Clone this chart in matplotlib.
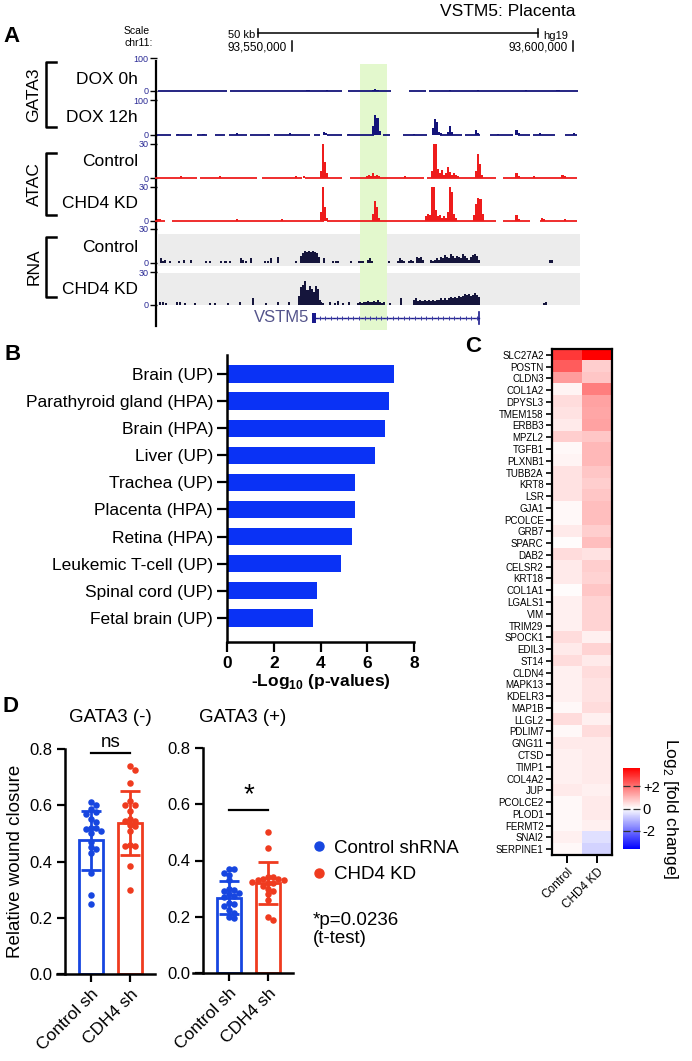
import numpy as np
import matplotlib.pyplot as plt
from matplotlib.lines import Line2D

plt.rcParams['font.family'] = ['Liberation Sans', 'DejaVu Sans']
plt.rcParams['mathtext.fontset'] = 'custom'
plt.rcParams['mathtext.rm'] = 'Liberation Sans'
plt.rcParams['mathtext.bf'] = 'Liberation Sans:bold'

# ---------------- panel A data (chr11 positions in kb) ----------------
view_kb = (93525.8, 93601.3)
highlight_kb = (93562.1, 93566.9)
coord_ticks_kb = [93550, 93600]
coord_labels = ['93,550,000', '93,600,000']
scalebar_end_kb = 93593.9
scalebar_len_kb = 50
gene_exon_kb = (93553.6, 93554.3)
gene_end_kb = 93583.3
bin_kb = 0.36

# baseline segments (start, end) and peaks as runs (start kb, values per bin)
dox0_base = [(93526.0, 93538.4), (93538.9, 93558.9), (93559.9, 93567.6),
             (93570.8, 93573.9), (93574.4, 93601.0)]
dox0_runs = [(93564.3, [3, 5, 4]), (93556.0, [2]), (93552.5, [2, 2]), (93578.0, [3]),
             (93583.0, [2]), (93591.5, [2]), (93597.0, [3, 2])]

dox12_base = [(93525.9, 93528.3), (93529.2, 93532.2), (93533.0, 93534.8), (93536.3, 93538.1),
              (93538.7, 93541.9), (93542.5, 93546.1), (93546.7, 93553.2), (93553.8, 93555.0),
              (93556.2, 93558.8), (93559.7, 93564.5), (93566.2, 93567.4), (93569.8, 93574.0),
              (93576.3, 93580.2), (93580.8, 93583.5), (93585.2, 93589.4), (93590.3, 93592.4),
              (93592.9, 93596.8), (93598.6, 93600.7)]
dox12_runs = [(93555.4, [9, 5]), (93564.3, [25, 58, 48, 12]),
              (93574.9, [20, 46, 38, 10, 6]), (93577.6, [10, 25, 8]),
              (93582.5, [15, 6]), (93589.8, [15, 6]), (93529.5, [4]), (93534.0, [4]),
              (93540.0, [5]), (93545.5, [4]), (93549.5, [5]), (93560.0, [3]), (93571.5, [4]),
              (93586.5, [4]), (93594.0, [5]), (93600.0, [5])]

atac_ctrl_base = [(93525.6, 93533.0), (93533.6, 93543.7), (93544.6, 93551.7), (93552.3, 93558.8),
                  (93560.3, 93573.4), (93574.0, 93586.4), (93587.6, 93600.7)]
atac_ctrl_runs = [(93555.0, [6, 30, 14, 4]), (93563.2, [2, 3, 2, 4, 2, 3, 2]),
                  (93574.7, [6, 30, 30, 8, 4, 7, 3, 4, 10, 5, 3, 4, 3, 2]),
                  (93582.6, [6, 21, 12, 3]), (93589.8, [4, 2]), (93598.0, [3, 2]),
                  (93550.5, [2]), (93552.0, [2]), (93537.0, [2]), (93530.0, [2]),
                  (93570.0, [2]), (93593.0, [2])]

atac_kd_base = [(93525.6, 93527.4), (93528.6, 93555.6), (93556.2, 93586.4),
                (93587.6, 93592.4), (93594.1, 93600.7)]
atac_kd_runs = [(93555.0, [8, 30, 12, 3]), (93564.2, [6, 18, 12, 3]),
                (93573.7, [4, 6, 5, 30, 30, 10, 4, 5, 3, 4, 3]),
                (93577.6, [8, 30, 26, 6, 3]), (93582.3, [5, 15, 20, 19, 6]),
                (93589.8, [5, 2]), (93594.3, [3, 2]), (93525.9, [2, 2]),
                (93540.0, [2]), (93548.0, [2]), (93598.5, [2])]

rna_ctrl_runs = [(93526.5, [4, 2, 3]), (93528.0, [2]), (93529.6, [2]), (93530.6, [3]),
                 (93531.7, [3]), (93534.4, [2, 0, 2]), (93537.2, [2, 0, 2]), (93538.7, [2]),
                 (93540.6, [4, 3]), (93541.6, [2]), (93542.5, [4]), (93544.9, [2]),
                 (93545.5, [2]), (93546.1, [4]), (93547.2, [5]), (93550.5, [2]),
                 (93551.3, [6, 9, 11, 10, 11, 10, 11, 10, 9, 5]), (93555.5, [4]),
                 (93557.0, [2]), (93557.6, [2]), (93558.0, [2]), (93560.3, [2]),
                 (93561.8, [2, 2, 2]), (93563.4, [3, 4, 2]), (93567.0, [2]),
                 (93568.6, [2, 4, 3, 2]), (93570.6, [2, 3, 2, 0, 5, 4, 5, 3]),
                 (93574.5, [3, 2, 3, 4, 3, 5, 4, 7, 5, 4, 8, 6, 4, 6, 5, 4, 8, 6, 4, 3,
                            5, 7, 8, 6, 3]),
                 (93595.8, [3, 3])]

rna_kd_runs = [(93526.2, [3]), (93526.8, [3]), (93527.4, [2]), (93529.2, [3]), (93529.8, [3]),
               (93530.7, [2]), (93532.5, [2]), (93535.1, [2]), (93536.0, [2]), (93538.4, [2]),
               (93540.5, [3]), (93542.8, [6]), (93545.2, [2]), (93547.3, [3]), (93549.2, [3]),
               (93551.1, [8, 16, 18, 22, 14, 17, 15, 12, 17, 15, 5]),
               (93555.0, [3, 2]), (93556.5, [3]), (93557.4, [2]), (93558.0, [4]),
               (93558.9, [2]), (93560.0, [3]),
               (93561.5, [2, 3, 2, 3, 3, 4, 3, 3, 4, 3, 5, 3, 2, 3, 0, 0, 2]),
               (93569.2, [6]),
               (93571.6, [5, 6, 4, 5, 4, 5, 4, 5, 4, 5, 4, 5, 5, 6, 5, 6, 5, 6, 7, 6, 7, 6,
                          8, 7, 8, 10, 9, 10, 8, 9, 11, 9, 7]),
               (93594.7, [2, 3])]

# ---------------- panel B data ----------------
tissues = ['Brain (UP)', 'Parathyroid gland (HPA)', 'Brain (HPA)', 'Liver (UP)',
           'Trachea (UP)', 'Placenta (HPA)', 'Retina (HPA)', 'Leukemic T-cell (UP)',
           'Spinal cord (UP)', 'Fetal brain (UP)']
neglog_p = [7.15, 6.94, 6.77, 6.34, 5.49, 5.49, 5.36, 4.89, 3.83, 3.70]

# ---------------- panel C data ----------------
genes = ['SLC27A2', 'POSTN', 'CLDN3', 'COL1A2', 'DPYSL3', 'TMEM158', 'ERBB3', 'MPZL2',
         'TGFB1', 'PLXNB1', 'TUBB2A', 'KRT8', 'LSR', 'GJA1', 'PCOLCE', 'GRB7', 'SPARC',
         'DAB2', 'CELSR2', 'KRT18', 'COL1A1', 'LGALS1', 'VIM', 'TRIM29', 'SPOCK1', 'EDIL3',
         'ST14', 'CLDN4', 'MAPK13', 'KDELR3', 'MAP1B', 'LLGL2', 'PDLIM7', 'GNG11', 'CTSD',
         'TIMP1', 'COL4A2', 'JUP', 'PCOLCE2', 'PLOD1', 'FERMT2', 'SNAI2', 'SERPINE1']
fc_control = [2.8, 2.3, 1.4, 0.15, 0.5, 0.4, 0.3, 0.7, 0.1, 0.15, 0.4, 0.4, 0.4, 0.1,
              0.1, 0.3, 0.05, 0.5, 0.3, 0.3, 0.05, 0.2, 0.2, 0.2, 0.5, 0.3, 0.5, 0.2, 0.2,
              0.2, 0.1, 0.5, 0.1, 0.3, 0.2, 0.2, 0.2, 0.3, 0.1, 0.1, 0.1, 0.2, 0.1]
fc_kd = [3.6, 0.7, 0.8, 1.8, 1.3, 1.25, 1.3, 0.8, 1.0, 1.0, 0.8, 0.7, 0.8, 0.9, 0.9,
         0.7, 0.9, 0.4, 0.7, 0.6, 0.8, 0.6, 0.6, 0.6, 0.2, 0.6, 0.3, 0.5, 0.4, 0.4, 0.5,
         0.2, 0.5, 0.3, 0.3, 0.3, 0.3, 0.2, 0.3, 0.3, 0.2, -0.45, -0.6]

# ---------------- panel D data ----------------
groups = ['Control sh', 'CDH4 sh']
neg_ctrl = [0.61, 0.60, 0.585, 0.575, 0.57, 0.55, 0.54, 0.52, 0.52, 0.515, 0.51, 0.50,
            0.47, 0.45, 0.445, 0.43, 0.36, 0.28, 0.25]
neg_kd = [0.74, 0.725, 0.68, 0.615, 0.60, 0.60, 0.58, 0.55, 0.545, 0.545, 0.53, 0.525,
          0.51, 0.46, 0.455, 0.455, 0.385, 0.30]
neg_mean = [0.475, 0.537]
neg_sd = [0.105, 0.113]
pos_ctrl = [0.37, 0.37, 0.355, 0.35, 0.33, 0.30, 0.295, 0.29, 0.285, 0.28, 0.275, 0.27,
            0.25, 0.245, 0.24, 0.225, 0.215, 0.20, 0.195]
pos_kd = [0.50, 0.445, 0.34, 0.34, 0.335, 0.335, 0.33, 0.33, 0.325, 0.32, 0.32, 0.31,
          0.30, 0.29, 0.28, 0.26, 0.20, 0.19]
pos_mean = [0.268, 0.32]
pos_sd = [0.058, 0.074]

NAVY = '#14147a'
RED = '#ee1c1c'
DARK = '#15153c'
BLUE = '#1746e0'
ORANGE = '#ef3b1f'

W, H = 692, 1061
fig = plt.figure(figsize=(W / 100, H / 100), dpi=100)


def box(x0, y0, x1, y1):
    return fig.add_axes([x0 / W, 1 - y1 / H, (x1 - x0) / W, (y1 - y0) / H])


ov = box(0, 0, W, H)
ov.set_xlim(0, W)
ov.set_ylim(H, 0)
ov.axis('off')

# panel letters
for lt, x, y in [('A', 12, 36), ('B', 13, 355), ('C', 473, 346), ('D', 10, 707)]:
    ov.text(x, y, lt, fontsize=16, fontweight='bold', ha='center', va='center')

# ---------------- panel A ----------------
ov.text(575, 11, 'VSTM5: Placenta', ha='right', va='center', fontsize=12.5)
ov.text(150, 31, 'Scale', ha='right', va='center', fontsize=7.5)
ov.text(153, 43, 'chr11:', ha='right', va='center', fontsize=7.5)

# backdrop: grey RNA lanes and highlighted region
back = box(156.5, 64, 580, 330)
back.set_xlim(*view_kb)
back.set_ylim(330, 64)
back.axis('off')
back.axhspan(234, 266, color='#ececec', lw=0)
back.axhspan(273, 305, color='#ececec', lw=0)
back.axvspan(*highlight_kb, color='#e3f8cd', lw=0)

ov.plot([156, 156], [61, 326], color='black', lw=1.6)

# ruler
rul = box(156.5, 24, 580, 56)
rul.set_xlim(*view_kb)
rul.set_ylim(56, 24)
rul.axis('off')
sb0 = scalebar_end_kb - scalebar_len_kb
rul.plot([sb0, scalebar_end_kb], [33, 33], color='black', lw=1.1)
for p in (sb0, scalebar_end_kb):
    rul.plot([p, p], [29, 37], color='black', lw=1.1)
rul.text(sb0 - 0.5, 35, '50 kb', ha='right', va='center', fontsize=8)
rul.text(scalebar_end_kb + 0.8, 36, 'hg19', ha='left', va='center', fontsize=8)
for p, lab in zip(coord_ticks_kb, coord_labels):
    rul.plot([p, p], [41, 51], color='black', lw=1.1)
    rul.text(p - 0.9, 47, lab, ha='right', va='center', fontsize=8.5)

tracks = [
    ('DOX 0h', 58, 91, 100, NAVY, dox0_runs, dox0_base, 79),
    ('DOX 12h', 100, 135, 100, NAVY, dox12_runs, dox12_base, 118),
    ('Control', 144, 178, 30, RED, atac_ctrl_runs, atac_ctrl_base, 162),
    ('CHD4 KD', 187, 221, 30, RED, atac_kd_runs, atac_kd_base, 203),
    ('Control', 229, 263, 30, DARK, rna_ctrl_runs, None, 247),
    ('CHD4 KD', 272, 305, 30, DARK, rna_kd_runs, None, 290),
]
for name, top, bot, ymax, col, runs, base, ly in tracks:
    ax = box(156.5, top, 580, bot)
    ax.set_facecolor('none')
    ax.set_xlim(*view_kb)
    ax.set_ylim(0, ymax)
    for s in ax.spines.values():
        s.set_visible(False)
    ax.set_xticks([])
    ax.set_yticks([0, ymax])
    ax.set_yticklabels(['0', str(ymax)], color='#2c2c96', fontsize=6.5)
    ax.tick_params(axis='y', length=5, width=1.0, pad=1)
    for start, vals in runs:
        pos = start + bin_kb * np.arange(len(vals))
        ax.bar(pos, vals, width=bin_kb, color=col, lw=0, align='edge')
    if base is not None:
        for a, b in base:
            ax.plot([a, b], [ymax * 0.012, ymax * 0.012], color=col, lw=1.3,
                    solid_capstyle='butt', clip_on=False)
    ov.text(138, ly, name, ha='right', va='center', fontsize=12.5)

# gene model
gax = box(156.5, 310, 580, 326)
gax.set_xlim(*view_kb)
gax.set_ylim(0, 1)
gax.axis('off')
gax.add_patch(plt.Rectangle((gene_exon_kb[0], 0.18), gene_exon_kb[1] - gene_exon_kb[0], 0.64,
                            color='#1a1a8c', lw=0))
gax.plot([gene_exon_kb[1], gene_end_kb], [0.5, 0.5], color='#1a1a8c', lw=1.0)
arrows_kb = np.arange(gene_exon_kb[1] + 0.6, gene_end_kb, 1.0)
gax.plot(arrows_kb, np.full(len(arrows_kb), 0.5),
         ls='none', marker='+', ms=3.5, mew=0.7, color='#3a3aa0')
gax.plot([gene_end_kb, gene_end_kb], [0.15, 0.85], color='#1a1a8c', lw=1.2)
gax.text(gene_exon_kb[0] - 0.5, 0.5, 'VSTM5', ha='right', va='center', fontsize=12,
         color='#55558c')

# brackets
for lab, y0, y1 in [('GATA3', 62, 127), ('ATAC', 153, 215), ('RNA', 237, 297)]:
    ov.plot([56, 46, 46, 56], [y0, y0, y1, y1], color='black', lw=1.8)
    ov.text(34, (y0 + y1) / 2, lab, rotation=90, ha='center', va='center', fontsize=12.5)

# ---------------- panel B ----------------
axb = box(227, 355, 414, 642)
yy = np.arange(len(tissues))
axb.barh(yy, neglog_p, height=0.64, color='#0a32f5')
axb.set_ylim(len(tissues) - 0.11, -0.7)
axb.set_xlim(0, 8)
axb.set_yticks(yy)
axb.set_yticklabels(tissues, fontsize=12.5)
axb.set_xticks([0, 2, 4, 6, 8])
axb.set_xticklabels(['0', '2', '4', '6', '8'], fontsize=12.5, fontweight='bold')
axb.set_xlabel(r'-Log$_{\mathbf{10}}$ (p-values)', fontsize=12.5, fontweight='bold', labelpad=1)
axb.spines['top'].set_visible(False)
axb.spines['right'].set_visible(False)
for s in ('left', 'bottom'):
    axb.spines[s].set_linewidth(1.8)
axb.tick_params(length=7, width=1.6, pad=3)

# ---------------- panel C ----------------
axc = box(552, 349, 612, 855)
mat = np.column_stack([fc_control, fc_kd])
im = axc.imshow(mat, cmap='bwr', vmin=-3.6, vmax=3.6, aspect='auto', interpolation='nearest')
axc.set_yticks(np.arange(len(genes)))
axc.set_yticklabels(genes, fontsize=7)
axc.set_xticks([0, 1])
axc.set_xticklabels(['Control', 'CHD4 KD'], rotation=45, ha='right', rotation_mode='anchor',
                    fontsize=8.5)
for s in axc.spines.values():
    s.set_linewidth(1.6)
axc.tick_params(axis='y', length=4, width=1.2, pad=2)
axc.tick_params(axis='x', length=6, width=1.4, pad=2)

cax = box(623, 768, 640, 849)
cb = fig.colorbar(im, cax=cax, ticks=[-2, 0, 2])
cb.outline.set_visible(False)
cb.ax.set_yticklabels(['-2', '0', '+2'], fontsize=10.5)
cb.ax.tick_params(direction='in', length=5, width=0.9, left=True, right=True, pad=2,
                  color='#333333')
cb.set_label(r'Log$_2$ [fold change]', rotation=270, fontsize=12.5, labelpad=15)


# ---------------- panel D ----------------
def swarm(vals, center, xs=39.0, ys=281.0, d=5.2):
    placed = []
    xs_out = []
    for v in vals:
        py = v * ys
        for i in range(40):
            o = ((i + 1) // 2) * d * (1 if i % 2 else -1) if i else 0.0
            if all((o - qx) ** 2 + (py - qy) ** 2 >= d ** 2 for qx, qy in placed):
                break
        placed.append((o, py))
        xs_out.append(center + o / xs)
    return xs_out


def wound(ax, ctrl, kd, mean, sd, xleft, sig, sig_y, sig_fs):
    ax.set_xlim(xleft, 1.64)
    ax.set_ylim(0, 0.8)
    for i, (pts, col) in enumerate([(ctrl, BLUE), (kd, ORANGE)]):
        ax.bar(i, mean[i], width=0.62, facecolor='white', edgecolor=col, lw=2, zorder=1)
        ax.scatter(swarm(pts, i), pts, s=22, color=col, lw=0, zorder=3, clip_on=False)
        ax.errorbar(i, mean[i], yerr=sd[i], fmt='none', ecolor=col, elinewidth=2,
                    capsize=7, capthick=2, zorder=4)
    ax.plot([0, 1], [sig_y, sig_y], color='black', lw=1.6, clip_on=False)
    ax.text(0.5, sig_y + 0.008, sig, ha='center', va='bottom', fontsize=sig_fs)
    ax.spines['top'].set_visible(False)
    ax.spines['right'].set_visible(False)
    ax.spines['left'].set_position(('data', -0.67))
    for s in ('left', 'bottom'):
        ax.spines[s].set_linewidth(1.8)
    ax.set_yticks([0, 0.2, 0.4, 0.6, 0.8])
    ax.set_yticklabels(['0.0', '0.2', '0.4', '0.6', '0.8'], fontsize=12)
    ax.set_xticks([0, 1])
    ax.set_xticklabels(groups, rotation=45, ha='right', rotation_mode='anchor', fontsize=12.5)
    ax.tick_params(length=6, width=1.6, pad=3)


axd1 = box(57, 749, 155, 974)
wound(axd1, neg_ctrl, neg_kd, neg_mean, neg_sd, -0.87, 'ns', 0.785, 13.5)
axd1.set_ylabel('Relative wound closure', fontsize=13.5, labelpad=4)
axd2 = box(193, 748, 293, 973)
wound(axd2, pos_ctrl, pos_kd, pos_mean, pos_sd, -0.92, '*', 0.578, 20)

ov.text(110, 717, 'GATA3 (-)', ha='center', va='center', fontsize=13.5)
ov.text(243, 717, 'GATA3 (+)', ha='center', va='center', fontsize=13.5)

handles = [Line2D([], [], ls='none', marker='o', ms=6.5, color=BLUE),
           Line2D([], [], ls='none', marker='o', ms=6.5, color=ORANGE)]
fig.legend(handles, ['Control shRNA', 'CHD4 KD'], loc='upper left',
           bbox_to_anchor=(300 / W, 1 - 832 / H), frameon=False, fontsize=13.5,
           handletextpad=0.2, labelspacing=0.5, handlelength=1.2, borderaxespad=0)
ov.text(313, 912, '*p=0.0236\n(t-test)', ha='left', va='top', fontsize=13.5, linespacing=1.1)

fig.savefig('out.png', dpi=100)
